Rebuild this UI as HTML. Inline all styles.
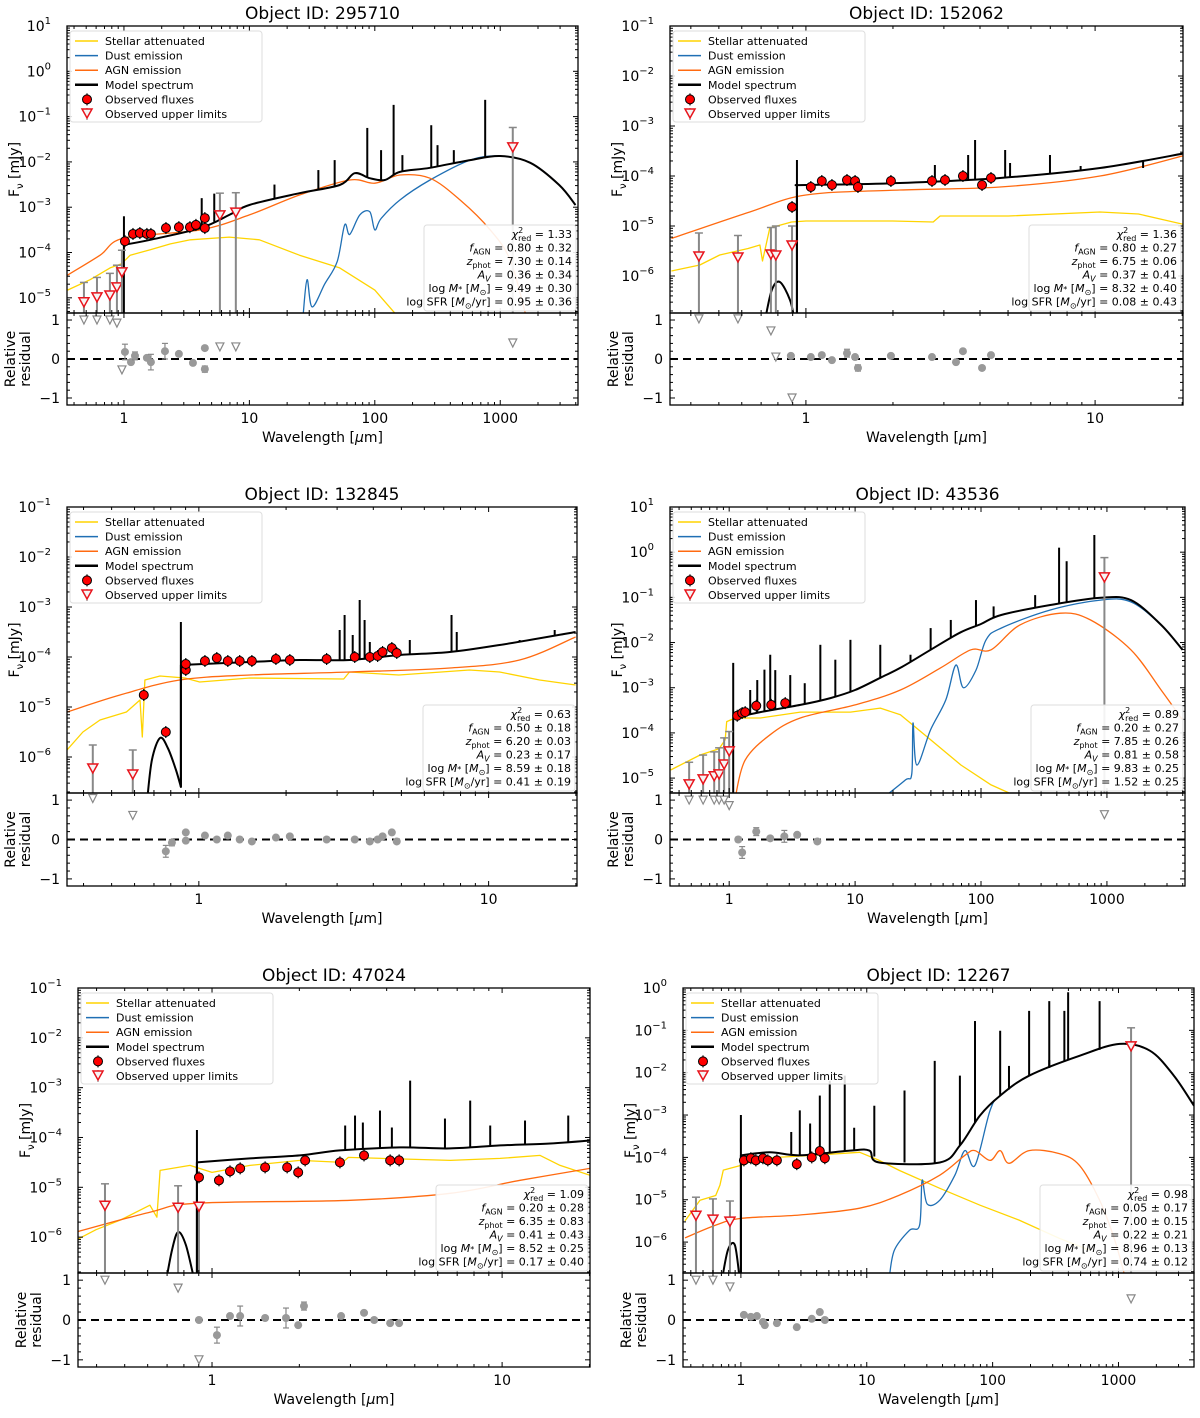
<!DOCTYPE html>
<html><head><meta charset="utf-8">
<style>
body{margin:0;background:#fff;}
svg text{font-family:"DejaVu Sans","Liberation Sans",sans-serif;fill:#000;}
</style></head>
<body>
<svg id="fig" width="1200" height="1413" viewBox="0 0 1200 1413" xmlns="http://www.w3.org/2000/svg"></svg>
<script>
// ===== Data (log10 wavelength [um], log10 flux [mJy]) =====
// Panel 1: 295710
const p1_stellar=[[-0.45,-4.83],[-0.27,-4.6],[-0.11,-4.34],[-0.02,-4.25],[0.05,-4.06],[0.21,-3.94],[0.37,-3.81],[0.53,-3.72],[0.84,-3.66],[1.08,-3.72],[1.4,-4.06],[1.72,-4.34],[2.0,-4.83],[2.16,-5.34]];
const p1_dust=[[1.43,-5.34],[1.46,-4.6],[1.5,-5.2],[1.6,-4.7],[1.7,-4.2],[1.76,-3.39],[1.8,-3.6],[1.88,-3.17],[1.96,-3.1],[2.0,-3.5],[2.05,-3.25],[2.2,-2.84],[2.44,-2.4],[2.76,-1.96],[3.0,-1.87],[3.24,-2.02],[3.47,-2.51],[3.6,-2.95]];
const p1_agn=[[-0.45,-4.5],[-0.19,-4.06],[0,-3.68],[0.61,-3.5],[1.0,-3.17],[1.4,-2.73],[1.8,-2.4],[2.0,-2.47],[2.2,-2.29],[2.44,-2.36],[2.68,-2.84],[2.92,-3.5],[3.08,-4.17],[3.2,-5.34]];
const p1_model=[[0,-5.4],[0,-3.83],[0.21,-3.72],[0.61,-3.46],[0.84,-3.17],[1.0,-2.95],[1.4,-2.69],[1.72,-2.51],[1.84,-2.25],[1.96,-2.36],[2.08,-2.4],[2.2,-2.22],[2.44,-2.13],[2.76,-1.96],[3.0,-1.87],[3.24,-2.02],[3.47,-2.51],[3.6,-2.95]];
const p1_lines=[[0,-3.2],[0.62,-2.8],[0.72,-2.7],[1.2,-2.5],[1.55,-2.18],[1.68,-1.96],[1.94,-1.25],[2.05,-1.74],[2.15,-0.74],[2.22,-1.85],[2.45,-1.19],[2.5,-1.63],[2.63,-1.74],[2.88,-0.63]];
const p1_obs=[[0.008,-3.75],[0.072,-3.59],[0.127,-3.57],[0.183,-3.59],[0.215,-3.59],[0.335,-3.46],[0.438,-3.44],[0.526,-3.44],[0.574,-3.39],[0.645,-3.24],[0.645,-3.46]];
const p1_ul=[[-0.319,-5.11,0.45],[-0.215,-5.0,0.45],[-0.112,-4.96,0.5],[-0.056,-4.78,0.5],[-0.016,-4.45,0.5],[0.765,-3.19,0.5],[0.892,-3.13,0.45],[3.1,-1.69,0.45]];
const p1_rul=[[-0.319,1.0],[-0.215,1.0],[-0.112,1.0],[-0.056,0.92],[-0.016,-0.28],[0.765,0.31],[0.892,0.31],[3.1,0.41]];
const p1_res=[[0.008,0.18,0.2],[0.056,-0.08,0.05],[0.088,0.08,0.1],[0.183,0.03,0.05],[0.215,-0.08,0.2],[0.327,0.2,0.2],[0.438,0.13,0.05],[0.55,-0.1,0.05],[0.645,0.28,0.05],[0.645,-0.26,0.08]];
const p1_stats=["1.33","0.80 ± 0.32","7.30 ± 0.14","0.36 ± 0.34","9.49 ± 0.30","0.95 ± 0.36"];
// Panel 2: 152062
const p2_stellar=[[-0.465,-5.9],[-0.367,-5.78],[-0.298,-5.58],[-0.2,-5.45],[-0.159,-5.38],[-0.15,-5.7],[-0.125,-5.04],[-0.05,-4.92],[0,-4.9],[0.3,-4.9],[0.44,-4.92],[0.464,-4.8],[0.7,-4.8],[1.017,-4.72],[1.15,-4.76],[1.315,-4.98]];
const p2_agn=[[-0.465,-5.25],[-0.194,-4.72],[0,-4.38],[0.325,-4.28],[0.671,-4.22],[1.017,-4.0],[1.315,-3.58]];
const p2_model=[[-0.142,-6.9],[-0.118,-6.28],[-0.09,-6.12],[-0.055,-6.48],[-0.038,-6.9],[-0.031,-6.9],[-0.031,-4.18],[0,-4.18],[0.325,-4.14],[0.671,-4.04],[1.017,-3.84],[1.315,-3.54]];
const p2_lines=[[-0.031,-3.68],[0.446,-3.78],[0.561,-3.58],[0.585,-3.28],[0.689,-3.48],[0.706,-3.74],[0.844,-3.58],[0.95,-3.8],[1.166,-3.84]];
const p2_obs=[[-0.048,-4.62],[0.017,-4.22],[0.055,-4.1],[0.09,-4.18],[0.142,-4.08],[0.17,-4.1],[0.18,-4.22],[0.294,-4.1],[0.436,-4.1],[0.481,-4.08],[0.543,-4.0],[0.609,-4.18],[0.64,-4.04]];
const p2_ul=[[-0.37,-5.62,0.48],[-0.235,-5.64,0.45],[-0.121,-5.58,0.55],[-0.104,-5.6,0.6],[-0.048,-5.4,0.4]];
const p2_rul=[[-0.37,1.03],[-0.235,1.03],[-0.121,0.72],[-0.104,0.05],[-0.048,-1.0]];
const p2_res=[[-0.052,0.08,0.05],[0.017,0.05,0.05],[0.055,0.1,0.05],[0.09,-0.03,0.05],[0.142,0.15,0.1],[0.17,0.05,0.05],[0.18,-0.23,0.08],[0.294,0.08,0.05],[0.436,0.05,0.05],[0.519,-0.08,0.05],[0.543,0.2,0.05],[0.609,-0.23,0.05],[0.64,0.1,0.05]];
const p2_stats=["1.36","0.80 ± 0.27","6.75 ± 0.06","0.37 ± 0.41","8.32 ± 0.40","0.08 ± 0.43"];
// Panel 3: 132845
const p3_stellar=[[-0.455,-5.86],[-0.4,-5.5],[-0.341,-5.26],[-0.25,-5.1],[-0.203,-4.86],[-0.195,-5.6],[-0.186,-4.46],[-0.134,-4.38],[-0.048,-4.42],[0.003,-4.5],[0.176,-4.42],[0.5,-4.44],[0.52,-4.3],[0.69,-4.36],[0.934,-4.26],[1.038,-4.3],[1.176,-4.46],[1.3,-4.56]];
const p3_agn=[[-0.455,-5.1],[-0.272,-4.76],[-0.066,-4.46],[0.176,-4.36],[0.521,-4.3],[0.866,-4.22],[1.107,-4.06],[1.3,-3.6]];
const p3_model=[[-0.179,-6.9],[-0.162,-6.06],[-0.134,-5.62],[-0.107,-5.82],[-0.079,-6.26],[-0.062,-6.6],[-0.062,-4.16],[0.176,-4.1],[0.348,-4.06],[0.521,-4.06],[0.693,-3.96],[0.866,-3.9],[1.038,-3.76],[1.3,-3.5]];
const p3_lines=[[-0.062,-3.3],[0.486,-3.46],[0.503,-3.16],[0.531,-3.56],[0.555,-2.86],[0.572,-3.26],[0.59,-3.7],[0.728,-3.66],[0.872,-3.16],[0.89,-3.5],[1.107,-3.66],[1.228,-3.46]];
const p3_obs=[[-0.19,-4.76],[-0.114,-5.5],[-0.045,-4.26],[-0.045,-4.14],[0.021,-4.08],[0.062,-4.02],[0.1,-4.08],[0.141,-4.08],[0.183,-4.08],[0.266,-4.04],[0.314,-4.06],[0.441,-4.04],[0.538,-4.0],[0.59,-4.0],[0.617,-3.98],[0.634,-3.9],[0.666,-3.82],[0.683,-3.92]];
const p3_ul=[[-0.366,-6.24,0.48],[-0.228,-6.36,0.5]];
const p3_rul=[[-0.366,1.04],[-0.228,0.61]];
const p3_res=[[-0.114,-0.3,0.15],[-0.093,-0.08,0.08],[-0.045,0.18,0.04],[-0.045,-0.03,0.04],[0.021,0.1,0.04],[0.062,0,0.04],[0.1,0.1,0.04],[0.141,0,0.04],[0.183,-0.05,0.04],[0.266,0.05,0.04],[0.314,0.08,0.04],[0.441,0,0.04],[0.538,0,0.04],[0.59,-0.05,0.04],[0.617,0,0.04],[0.634,0.08,0.04],[0.666,0.18,0.04],[0.683,-0.05,0.04]];
const p3_stats=["0.63","0.50 ± 0.18","6.20 ± 0.03","0.23 ± 0.17","8.59 ± 0.18","0.41 ± 0.19"];
// Panel 4: 43536
const p4_stellar=[[-0.465,-4.82],[-0.231,-4.49],[-0.08,-4.35],[-0.032,-4.15],[-0.02,-3.75],[0.048,-3.67],[0.247,-3.67],[0.565,-3.54],[0.963,-3.54],[1.2,-3.45],[1.36,-3.6],[1.6,-4.15],[1.84,-4.71],[2.08,-5.15],[2.28,-5.4]];
const p4_agn=[[0.05,-5.4],[0.127,-4.6],[0.326,-4.04],[0.565,-3.67],[1.0,-3.38],[1.36,-3.05],[1.68,-2.56],[1.92,-2.16],[2.08,-2.16],[2.31,-1.61],[2.63,-1.35],[2.87,-1.5],[3.19,-2.16],[3.43,-3.05],[3.6,-3.71]];
const p4_dust=[[1.24,-5.4],[1.4,-5.04],[1.45,-4.9],[1.46,-3.78],[1.49,-4.71],[1.6,-3.93],[1.72,-3.27],[1.8,-2.5],[1.86,-3.0],[1.96,-2.61],[2.04,-1.94],[2.16,-1.68],[2.55,-1.28],[2.95,-1.06],[3.19,-1.1],[3.43,-1.61],[3.6,-2.16]];
const p4_model=[[0.032,-5.4],[0.032,-3.67],[0.247,-3.54],[0.565,-3.38],[0.804,-3.23],[1.0,-3.05],[1.2,-2.78],[1.36,-2.56],[1.6,-2.16],[1.84,-1.77],[2.0,-1.59],[2.16,-1.39],[2.55,-1.17],[2.95,-1.01],[3.19,-1.06],[3.43,-1.61],[3.6,-2.16]];
const p4_lines=[[0.032,-2.45],[0.167,-3.05],[0.223,-2.83],[0.28,-2.6],[0.326,-2.27],[0.366,-2.61],[0.485,-2.72],[0.6,-2.9],[0.724,-2.05],[0.843,-2.38],[0.963,-1.94],[1.2,-2.05],[1.44,-2.27],[1.6,-1.68],[1.76,-1.5],[1.96,-1.06],[2.1,-1.2],[2.43,-0.95],[2.62,0.1],[2.68,-0.2],[2.9,0.38]];
const p4_obs=[[0.064,-3.62],[0.103,-3.56],[0.127,-3.54],[0.215,-3.4],[0.334,-3.38],[0.445,-3.34]];
const p4_ul=[[-0.318,-5.15,0.5],[-0.207,-5.04,0.55],[-0.119,-4.97,0.55],[-0.08,-4.93,0.6],[-0.04,-4.71,0.6],[0,-4.42,0.45],[2.98,-0.57,0.45]];
const p4_rul=[[-0.318,1.0],[-0.207,1.0],[-0.119,1.0],[-0.08,1.0],[-0.04,1.0],[0,0.86],[2.98,0.63]];
const p4_res=[[0.072,0.0,0.06],[0.103,-0.33,0.15],[0.215,0.2,0.1],[0.326,0.03,0.05],[0.438,0.08,0.15],[0.54,0.12,0.05],[0.7,-0.05,0.04]];
const p4_stats=["0.89","0.20 ± 0.27","7.85 ± 0.26","0.81 ± 0.58","9.83 ± 0.25","1.52 ± 0.25"];
// Panel 5: 47024
const p5_stellar=[[-0.469,-6.06],[-0.4,-5.85],[-0.317,-5.66],[-0.214,-5.36],[-0.19,-5.6],[-0.179,-4.66],[-0.076,-4.56],[0,-4.7],[0.131,-4.56],[0.303,-4.46],[0.45,-4.5],[0.47,-4.4],[0.821,-4.46],[0.993,-4.42],[1.131,-4.36],[1.2,-4.56],[1.303,-4.76]];
const p5_agn=[[-0.469,-5.9],[-0.214,-5.5],[-0.05,-5.32],[0.476,-5.26],[0.821,-5.12],[1.062,-4.86],[1.303,-4.62]];
const p5_model=[[-0.159,-6.9],[-0.138,-6.26],[-0.117,-5.9],[-0.09,-6.16],[-0.059,-6.9],[-0.052,-6.9],[-0.052,-4.5],[0.131,-4.42],[0.303,-4.36],[0.441,-4.26],[0.648,-4.2],[0.821,-4.22],[0.993,-4.16],[1.166,-4.12],[1.303,-4.06]];
const p5_lines=[[-0.052,-3.85],[0.459,-3.76],[0.493,-3.56],[0.52,-3.7],[0.579,-3.46],[0.62,-3.8],[0.683,-2.86],[0.803,-3.62],[0.89,-3.26],[0.959,-3.76],[1.079,-3.66],[1.228,-3.56]];
const p5_obs=[[-0.045,-4.8],[0.024,-4.86],[0.062,-4.68],[0.097,-4.62],[0.183,-4.6],[0.259,-4.6],[0.297,-4.7],[0.321,-4.46],[0.441,-4.5],[0.524,-4.36],[0.614,-4.46],[0.645,-4.46]];
const p5_ul=[[-0.369,-5.38,0.45],[-0.117,-5.42,0.45],[-0.045,-5.4,0.05]];
const p5_rul=[[-0.369,1.0],[-0.117,0.8],[-0.045,-1.0]];
const p5_res=[[-0.045,0,0.04],[0.017,-0.38,0.2],[0.062,0.1,0.05],[0.097,0.1,0.25],[0.183,0.05,0.04],[0.255,0.05,0.25],[0.297,-0.13,0.04],[0.317,0.35,0.1],[0.445,0.1,0.04],[0.524,0.18,0.04],[0.559,0,0.04],[0.614,-0.08,0.04],[0.645,-0.08,0.04]];
const p5_stats=["1.09","0.20 ± 0.28","6.35 ± 0.83","0.41 ± 0.43","8.52 ± 0.25","0.17 ± 0.40"];
// Panel 6: 12267
const p6_stellar=[[-0.444,-5.5],[-0.325,-5.01],[-0.2,-4.9],[-0.167,-4.66],[-0.14,-4.3],[0,-4.19],[0.151,-4.02],[0.468,-3.97],[0.944,-3.88],[1.1,-4.07],[1.26,-4.31],[1.58,-4.73],[1.9,-5.13],[2.21,-5.48],[2.53,-5.91],[2.77,-6.19]];
const p6_agn=[[-0.444,-5.9],[-0.2,-5.6],[0,-5.44],[0.468,-5.36],[0.944,-5.2],[1.26,-4.89],[1.58,-4.42],[1.78,-3.95],[1.86,-3.84],[1.98,-4.07],[2.06,-3.84],[2.13,-4.14],[2.29,-3.84],[2.53,-3.91],[2.69,-4.19],[2.85,-5.01],[2.97,-5.95],[3.05,-6.8]];
const p6_dust=[[1.18,-6.8],[1.22,-6.19],[1.34,-5.72],[1.42,-5.6],[1.44,-4.54],[1.48,-5.1],[1.58,-5.01],[1.7,-4.42],[1.78,-3.84],[1.86,-4.19],[1.98,-2.89],[2.06,-2.54],[2.29,-2.07],[2.69,-1.6],[3.01,-1.32],[3.25,-1.48],[3.44,-2.07],[3.6,-2.78]];
const p6_model=[[-0.151,-6.9],[-0.103,-6.19],[-0.048,-6.07],[-0.008,-6.9],[0,-6.9],[0,-3.95],[0.23,-3.88],[0.468,-3.95],[0.865,-3.84],[1.02,-3.84],[1.1,-4.12],[1.58,-4.12],[1.74,-3.72],[1.9,-3.01],[2.06,-2.54],[2.29,-2.07],[2.69,-1.6],[3.01,-1.32],[3.25,-1.48],[3.44,-2.07],[3.6,-2.78]];
const p6_lines=[[0,-3.0],[0.4,-3.4],[0.468,-2.89],[0.55,-3.2],[0.627,-2.54],[0.706,-2.19],[0.825,-2.07],[0.9,-3.3],[1.06,-2.78],[1.3,-2.42],[1.54,-1.72],[1.74,-2.07],[1.86,-0.78],[2.06,-1.01],[2.13,-1.84],[2.29,-0.54],[2.45,-0.31],[2.57,-0.54],[2.85,-0.31],[2.6,-0.1],[2.45,-1.7]];
const p6_obs=[[0.024,-4.07],[0.079,-4.02],[0.119,-4.07],[0.175,-4.02],[0.214,-4.07],[0.286,-4.07],[0.444,-4.16],[0.563,-4.0],[0.627,-3.85],[0.667,-4.02]];
const p6_ul=[[-0.357,-5.39,0.45],[-0.222,-5.48,0.5],[-0.087,-5.53,0.5],[3.1,-1.39,0.45]];
const p6_rul=[[-0.357,1.0],[-0.222,1.0],[-0.087,0.83],[3.1,0.53]];
const p6_res=[[0.024,0.13,0.03],[0.079,0.08,0.03],[0.127,0.1,0.03],[0.175,-0.05,0.03],[0.19,-0.13,0.03],[0.286,-0.08,0.03],[0.444,-0.18,0.03],[0.563,0.03,0.03],[0.627,0.2,0.03],[0.667,0,0.03]];
const p6_stats=["0.98","0.05 ± 0.17","7.00 ± 0.15","0.22 ± 0.21","8.96 ± 0.13","0.74 ± 0.12"];
const ids=["295710","152062","132845","43536","47024","12267"];

// ===== Layout (pixels, not data) =====
const P=[
 {x0:67,x1:578,w0:-0.454,w1:3.62,y0:26,y1:313,f0:1,f1:-5.335,r1:405,xt:[0,1,2,3],yt:[1,0,-1,-2,-3,-4,-5]},
 {x0:670,x1:1183,w0:-0.47,w1:1.304,y0:26,y1:313,f0:-1,f1:-6.74,r1:405,xt:[0,1],yt:[-1,-2,-3,-4,-5,-6]},
 {x0:67,x1:577,w0:-0.455,w1:1.305,y0:507,y1:793,f0:-1,f1:-6.72,r1:886,xt:[0,1],yt:[-1,-2,-3,-4,-5,-6]},
 {x0:670,x1:1185,w0:-0.47,w1:3.62,y0:507,y1:793,f0:1,f1:-5.33,r1:886,xt:[0,1,2,3],yt:[1,0,-1,-2,-3,-4,-5]},
 {x0:78,x1:590,w0:-0.462,w1:1.303,y0:988,y1:1273,f0:-1,f1:-6.72,r1:1367,xt:[0,1],yt:[-1,-2,-3,-4,-5,-6]},
 {x0:683,x1:1194,w0:-0.46,w1:3.6,y0:988,y1:1273,f0:0,f1:-6.73,r1:1367,xt:[0,1,2,3],yt:[0,-1,-2,-3,-4,-5,-6]}
];
const DATA=[
 [p1_stellar,p1_dust,p1_agn,p1_model,p1_lines,p1_obs,p1_ul,p1_rul,p1_res,p1_stats],
 [p2_stellar,null,p2_agn,p2_model,p2_lines,p2_obs,p2_ul,p2_rul,p2_res,p2_stats],
 [p3_stellar,null,p3_agn,p3_model,p3_lines,p3_obs,p3_ul,p3_rul,p3_res,p3_stats],
 [p4_stellar,p4_dust,p4_agn,p4_model,p4_lines,p4_obs,p4_ul,p4_rul,p4_res,p4_stats],
 [p5_stellar,null,p5_agn,p5_model,p5_lines,p5_obs,p5_ul,p5_rul,p5_res,p5_stats],
 [p6_stellar,p6_dust,p6_agn,p6_model,p6_lines,p6_obs,p6_ul,p6_rul,p6_res,p6_stats]
];
const NS="http://www.w3.org/2000/svg";
const svg=document.getElementById('fig');
function el(tag,attrs,parent){const e=document.createElementNS(NS,tag);for(const k in attrs)e.setAttribute(k,attrs[k]);(parent||svg).appendChild(e);return e;}
const YEL="#ffd400",BLU="#1f6fb4",ORA="#ff6a10";
function interp(arr,x){for(let i=0;i<arr.length-1;i++){if(x>=arr[i][0]&&x<=arr[i+1][0]){const a=arr[i],b=arr[i+1];if(b[0]===a[0])return b[1];return a[1]+(b[1]-a[1])*(x-a[0])/(b[0]-a[0]);}}return arr[arr.length-1][1];}
const sup=s=>s.replace('-','−');
function smoothD(pts){
 let d='M'+pts[0][0].toFixed(1)+','+pts[0][1].toFixed(1);
 for(let i=0;i<pts.length-1;i++){
  const a=pts[i],b=pts[i+1];
  if(Math.abs(b[0]-a[0])<0.5){d+='L'+b[0].toFixed(1)+','+b[1].toFixed(1);continue;}
  let p0=pts[i-1]||a,p3=pts[i+2]||b;
  if(Math.abs(p0[0]-a[0])<0.5)p0=a;
  if(Math.abs(p3[0]-b[0])<0.5)p3=b;
  const c1=[a[0]+(b[0]-p0[0])/6,a[1]+(b[1]-p0[1])/6];
  const c2=[b[0]-(p3[0]-a[0])/6,b[1]-(p3[1]-a[1])/6];
  d+='C'+c1[0].toFixed(1)+','+c1[1].toFixed(1)+' '+c2[0].toFixed(1)+','+c2[1].toFixed(1)+' '+b[0].toFixed(1)+','+b[1].toFixed(1);
 }
 return d;
}

P.forEach((p,i)=>{
 const D=DATA[i];
 const X=w=>p.x0+(w-p.w0)/(p.w1-p.w0)*(p.x1-p.x0);
 const Y=f=>p.y0+(p.f0-f)/(p.f0-p.f1)*(p.y1-p.y0);
 const R=v=>p.y1+(1.18-v)/2.36*(p.r1-p.y1);
 const g=el('g',{});
 
 
 const cid='clip'+i;
 const defs=el('defs',{},g);
 const cp=el('clipPath',{id:cid},defs);
 el('rect',{x:p.x0,y:p.y0,width:p.x1-p.x0,height:p.y1-p.y0},cp);
 const cid2='clipr'+i;
 const cp2=el('clipPath',{id:cid2},defs);
 el('rect',{x:p.x0,y:p.y1,width:p.x1-p.x0,height:p.r1-p.y1},cp2);
 const mg=el('g',{'clip-path':'url(#'+cid+')'},g);
 const path=(arr,color,w,name,smooth)=>{const pts=arr.map(q=>[X(q[0]),Y(q[1])]);const d=smooth?smoothD(pts):pts.map((q,k)=>(k?'L':'M')+q[0].toFixed(1)+','+q[1].toFixed(1)).join('');const e=el('path',{d:d,fill:'none',stroke:color,'stroke-width':w,'stroke-linejoin':'round'},mg);};
 path(D[0],YEL,1.3,'stellar-attenuated-curve',false);
 if(D[1])path(D[1],BLU,1.3,'dust-emission-curve',true);
 path(D[2],ORA,1.3,'agn-emission-curve',true);
 path(D[3],'#000',2,'model-spectrum-curve',true);
 D[4].forEach(l=>{const base=interp(D[3],l[0]);const e=el('line',{x1:X(l[0]),x2:X(l[0]),y1:Y(base),y2:Y(l[1]),stroke:'#000','stroke-width':2},mg);
  
  });
 D[6].forEach(u=>{const x=X(u[0]);
  const l=el('line',{x1:x,x2:x,y1:Y(u[1]+u[2]),y2:p.y1+2,stroke:'#888','stroke-width':2},mg);
  
  
  el('line',{x1:x-4,x2:x+4,y1:Y(u[1]+u[2]),y2:Y(u[1]+u[2]),stroke:'#888','stroke-width':1.5},mg);
  const y=Y(u[1]);
  const t=el('polygon',{points:`${x-5},${y-5} ${x+5},${y-5} ${x},${y+4}`,fill:'#f4f4f4',stroke:'#e8141c','stroke-width':1.5},mg);
  
  });
 D[5].forEach(o=>{const x=X(o[0]),y=Y(o[1]);
  el('line',{x1:x,x2:x,y1:y-6,y2:y+6,stroke:'#000','stroke-width':1.2},mg);
  const c=el('circle',{cx:x,cy:y,r:4.5,fill:'#f00',stroke:'#000','stroke-width':1},mg);
  
  });
 const rg=el('g',{'clip-path':'url(#'+cid2+')'},g);
 const zl=el('line',{x1:p.x0,x2:p.x1,y1:R(0),y2:R(0),stroke:'#000','stroke-width':2,'stroke-dasharray':'8,5'},rg);
 
 
 D[7].forEach(r=>{const x=X(r[0]),y=R(r[1]);
  const t=el('polygon',{points:`${x-4},${y-4} ${x+4},${y-4} ${x},${y+4}`,fill:'#fff',stroke:'#888','stroke-width':1.2},rg);
  
  });
 D[8].forEach(r=>{const x=X(r[0]),y=R(r[1]);
  el('line',{x1:x,x2:x,y1:R(r[1]+r[2]),y2:R(r[1]-r[2]),stroke:'#888','stroke-width':1.2},rg);
  el('line',{x1:x-3,x2:x+3,y1:R(r[1]+r[2]),y2:R(r[1]+r[2]),stroke:'#888','stroke-width':1.2},rg);
  el('line',{x1:x-3,x2:x+3,y1:R(r[1]-r[2]),y2:R(r[1]-r[2]),stroke:'#888','stroke-width':1.2},rg);
  const c=el('circle',{cx:x,cy:y,r:4,fill:'#999'},rg);
  
  });
 el('rect',{x:p.x0,y:p.y0,width:p.x1-p.x0,height:p.y1-p.y0,fill:'none',stroke:'#000','stroke-width':1.3},g);
 el('rect',{x:p.x0,y:p.y1,width:p.x1-p.x0,height:p.r1-p.y1,fill:'none',stroke:'#000','stroke-width':1.3},g);
 for(let k=-1;k<=4;k++)for(let m=1;m<=9;m++){const w=k+Math.log10(m);if(w<p.w0||w>p.w1)continue;const x=X(w);const L=m===1?5:3;
  [[p.y0,1],[p.y1,-1],[p.y1,1],[p.r1,-1]].forEach(([yy,s])=>el('line',{x1:x,x2:x,y1:yy,y2:yy+s*L,stroke:'#000','stroke-width':1},g));}
 p.xt.forEach(k=>{const t=el('text',{x:X(k),y:p.r1+18,'font-size':14,'text-anchor':'middle'},g);t.textContent=String(Math.pow(10,k));
  
  });
 for(let k=-7;k<=1;k++)for(let m=1;m<=9;m++){const f=k+Math.log10(m);if(f<p.f1||f>p.f0)continue;const y=Y(f);const L=m===1?5:3;
  el('line',{x1:p.x0,x2:p.x0+L,y1:y,y2:y,stroke:'#000','stroke-width':1},g);
  el('line',{x1:p.x1,x2:p.x1-L,y1:y,y2:y,stroke:'#000','stroke-width':1},g);}
 p.yt.forEach(k=>{const t=el('text',{x:p.x0-16,y:Y(k)+5,'font-size':14,'text-anchor':'end'},g);t.innerHTML='10<tspan dy="-7" font-size="10">'+sup(String(k))+'</tspan>';
  
  });
 for(let v=-1;v<=1.001;v+=0.2){const y=R(v);const maj=Math.abs(v-Math.round(v))<0.01;const L=maj?5:3;
  el('line',{x1:p.x0,x2:p.x0+L,y1:y,y2:y,stroke:'#000','stroke-width':1},g);
  el('line',{x1:p.x1,x2:p.x1-L,y1:y,y2:y,stroke:'#000','stroke-width':1},g);}
 [1,0,-1].forEach(v=>{const t=el('text',{x:p.x0-7,y:R(v)+5,'font-size':14,'text-anchor':'end'},g);t.textContent=v<0?'−1':String(v);
  
  });
 const cx=(p.x0+p.x1)/2;
 const ti=el('text',{x:cx,y:p.y0-7,'font-size':17,'text-anchor':'middle'},g);ti.textContent='Object ID: '+ids[i];
 
 
 const xl=el('text',{x:cx,y:p.r1+37,'font-size':14,'text-anchor':'middle'},g);xl.innerHTML='Wavelength [<tspan font-style="italic">μ</tspan>m]';
 
 
 const ym=(p.y0+p.y1)/2;
 const yl=el('text',{x:p.x0-48,y:ym,'font-size':14,'text-anchor':'middle',transform:`rotate(-90 ${p.x0-48} ${ym})`},g);yl.innerHTML='F<tspan dy="4" font-size="10">ν</tspan><tspan dy="-4"> [mJy]</tspan>';
 
 
 const rm=(p.y1+p.r1)/2;
 [['Relative',p.x0-52],['residual',p.x0-37]].forEach(([s,xx])=>{const t=el('text',{x:xx,y:rm,'font-size':14,'text-anchor':'middle',transform:`rotate(-90 ${xx} ${rm})`},g);t.textContent=s;
  
  });
 const lx=p.x0+3,ly=p.y0+5;
 const lg=el('g',{},g);
 
 
 el('rect',{x:lx,y:ly,width:192,height:91,rx:3,fill:'#fff','fill-opacity':0.85,stroke:'#ddd'},lg);
 const ents=[['Stellar attenuated',YEL,1.5],['Dust emission',BLU,1.5],['AGN emission',ORA,1.5],['Model spectrum','#000',2.5],['Observed fluxes'],['Observed upper limits']];
 ents.forEach((e,k)=>{const yy=ly+10+k*14.6;
  if(k<4)el('line',{x1:lx+5,x2:lx+28,y1:yy,y2:yy,stroke:e[1],'stroke-width':e[2]},lg);
  else if(k===4){el('line',{x1:lx+17,x2:lx+17,y1:yy-6,y2:yy+6,stroke:'#000','stroke-width':1.2},lg);el('circle',{cx:lx+17,cy:yy,r:4.5,fill:'#f00',stroke:'#000'},lg);}
  else{el('line',{x1:lx+17,x2:lx+17,y1:yy-6,y2:yy+6,stroke:'#888','stroke-width':1.2},lg);el('polygon',{points:`${lx+12},${yy-5} ${lx+22},${yy-5} ${lx+17},${yy+4}`,fill:'#f4f4f4',stroke:'#e8141c','stroke-width':1.5},lg);}
  const t=el('text',{x:lx+35,y:yy+4,'font-size':11},lg);t.textContent=e[0];
  
  });
 const s=D[9];
 const bx=p.x1-154,by=p.y1-88;
 const sg=el('g',{},g);
 
 
 el('rect',{x:bx,y:by,width:152,height:86,rx:3,fill:'#fff','fill-opacity':0.9,stroke:'#ddd'},sg);
 const rx=p.x1-6;
 const lab=['<tspan font-style="italic">χ</tspan><tspan dy="-5" font-size="8">2</tspan><tspan dx="-5" dy="8" font-size="8">red</tspan><tspan dy="-3"> = '+s[0]+'</tspan>',
 '<tspan font-style="italic">f</tspan><tspan dy="3" font-size="8">AGN</tspan><tspan dy="-3"> = '+s[1]+'</tspan>',
 '<tspan font-style="italic">z</tspan><tspan dy="3" font-size="8">phot</tspan><tspan dy="-3"> = '+s[2]+'</tspan>',
 '<tspan font-style="italic">A</tspan><tspan dy="3" font-size="8" font-style="italic">V</tspan><tspan dy="-3"> = '+s[3]+'</tspan>',
 'log <tspan font-style="italic">M</tspan><tspan font-size="8">*</tspan> [<tspan font-style="italic">M</tspan><tspan dy="3" font-size="8">⊙</tspan><tspan dy="-3">] = '+s[4]+'</tspan>',
 'log SFR [<tspan font-style="italic">M</tspan><tspan dy="3" font-size="8">⊙</tspan><tspan dy="-3">/yr] = '+s[5]+'</tspan>'];
 lab.forEach((h,k)=>{const t=el('text',{x:rx,y:by+13+k*13.5,'font-size':11,'text-anchor':'end'},sg);t.innerHTML=h;
  
  });
});
</script>
</body></html>
